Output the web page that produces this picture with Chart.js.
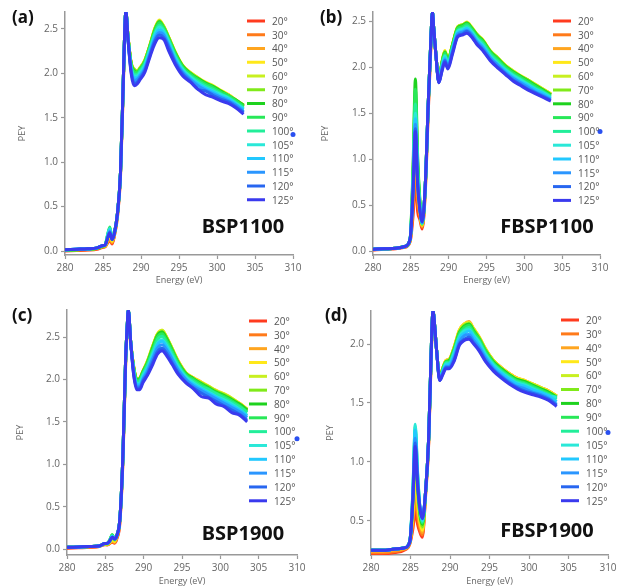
<!DOCTYPE html>
<html>
<head>
<meta charset="utf-8">
<script src="https://cdn.jsdelivr.net/npm/chart.js@4.4.1/dist/chart.umd.min.js"></script>
<style>
  html, body { margin: 0; padding: 0; background: #fff; }
  #wrap { position: relative; width: 626px; height: 588px; overflow: hidden; }
  #wrap canvas { position: absolute; }
</style>
</head>
<body>
<div id="wrap">
  <canvas id="chartA" width="313" height="290" style="left:0;top:0"></canvas>
  <canvas id="chartB" width="313" height="290" style="left:313px;top:0"></canvas>
  <canvas id="chartC" width="313" height="298" style="left:0;top:290px"></canvas>
  <canvas id="chartD" width="313" height="298" style="left:313px;top:290px"></canvas>
</div>
<script>
// photon energy (eV), shared by all four panels
const energy = [280, 281.5, 283, 284.2, 284.9, 285.3, 285.6, 285.9, 286.2, 286.5,
  286.9, 287.3, 287.65, 287.85, 288.0, 288.3, 288.7, 289.1, 289.5, 289.9, 290.5,
  291.2, 291.8, 292.4, 293.0, 293.7, 294.5, 295.5, 296.5, 297.5, 298.5,
  299.5, 300.5, 301.5, 302.5, 303.5];

const angles = ['20°', '30°', '40°', '50°', '60°', '70°', '80°', '90°', '100°', '105°', '110°', '115°', '120°', '125°'];
const colors = ['#ff3b1f', '#ff7a1a', '#ffa51f', '#ffe81a', '#c8f020', '#80ea1a', '#1ed21e',
  '#28e858', '#22ee9a', '#2ae8d8', '#22c8ff', '#2a96ff', '#2866f0', '#3a3aee'];

// PEY, one row per angle (20° ... 125°)
const bsp1100 = [
  [0.00, 0.005, 0.01, 0.02, 0.04, 0.05, 0.09, 0.12, 0.08, 0.17, 0.38, 0.83, 1.78, 2.40, 2.68, 2.41, 2.11, 2.03, 2.01, 2.06, 2.14, 2.32, 2.48, 2.58, 2.51, 2.39, 2.23, 2.08, 2.00, 1.94, 1.89, 1.85, 1.80, 1.75, 1.69, 1.63],
  [0.005, 0.01, 0.015, 0.025, 0.045, 0.05, 0.10, 0.14, 0.09, 0.18, 0.40, 0.86, 1.82, 2.43, 2.69, 2.40, 2.11, 2.03, 2.02, 2.06, 2.14, 2.32, 2.49, 2.58, 2.52, 2.39, 2.23, 2.08, 2.00, 1.94, 1.89, 1.85, 1.80, 1.75, 1.69, 1.63],
  [0.01, 0.015, 0.02, 0.03, 0.05, 0.06, 0.11, 0.16, 0.10, 0.20, 0.42, 0.88, 1.85, 2.45, 2.70, 2.40, 2.12, 2.04, 2.02, 2.06, 2.14, 2.32, 2.49, 2.59, 2.52, 2.39, 2.23, 2.08, 2.00, 1.94, 1.89, 1.85, 1.80, 1.76, 1.70, 1.64],
  [0.01, 0.015, 0.02, 0.03, 0.05, 0.06, 0.13, 0.18, 0.11, 0.20, 0.42, 0.88, 1.85, 2.45, 2.70, 2.40, 2.12, 2.05, 2.03, 2.07, 2.15, 2.33, 2.50, 2.60, 2.53, 2.40, 2.24, 2.09, 2.01, 1.95, 1.90, 1.86, 1.81, 1.76, 1.70, 1.64],
  [0.01, 0.015, 0.02, 0.03, 0.05, 0.06, 0.14, 0.20, 0.12, 0.20, 0.42, 0.88, 1.85, 2.45, 2.70, 2.40, 2.11, 2.05, 2.03, 2.06, 2.15, 2.32, 2.50, 2.59, 2.53, 2.39, 2.24, 2.08, 2.01, 1.95, 1.89, 1.86, 1.80, 1.75, 1.70, 1.64],
  [0.01, 0.015, 0.02, 0.03, 0.05, 0.07, 0.16, 0.23, 0.13, 0.20, 0.42, 0.88, 1.85, 2.45, 2.70, 2.40, 2.11, 2.04, 2.02, 2.06, 2.14, 2.32, 2.49, 2.59, 2.52, 2.39, 2.23, 2.08, 2.00, 1.94, 1.89, 1.85, 1.80, 1.75, 1.69, 1.63],
  [0.01, 0.015, 0.02, 0.03, 0.055, 0.07, 0.17, 0.25, 0.14, 0.20, 0.42, 0.88, 1.85, 2.45, 2.70, 2.40, 2.11, 2.03, 2.01, 2.05, 2.13, 2.31, 2.48, 2.58, 2.51, 2.38, 2.23, 2.08, 2.00, 1.94, 1.89, 1.85, 1.80, 1.75, 1.70, 1.64],
  [0.01, 0.015, 0.02, 0.03, 0.055, 0.07, 0.18, 0.27, 0.14, 0.20, 0.42, 0.88, 1.85, 2.45, 2.70, 2.40, 2.10, 2.02, 2.01, 2.05, 2.13, 2.31, 2.47, 2.57, 2.51, 2.38, 2.22, 2.07, 1.99, 1.93, 1.88, 1.84, 1.79, 1.75, 1.69, 1.63],
  [0.015, 0.02, 0.025, 0.035, 0.06, 0.07, 0.18, 0.26, 0.14, 0.20, 0.42, 0.88, 1.85, 2.45, 2.70, 2.39, 2.08, 1.99, 1.99, 2.03, 2.11, 2.29, 2.45, 2.54, 2.49, 2.36, 2.20, 2.05, 1.97, 1.91, 1.86, 1.82, 1.77, 1.73, 1.67, 1.61],
  [0.015, 0.02, 0.025, 0.035, 0.06, 0.07, 0.17, 0.25, 0.14, 0.20, 0.42, 0.88, 1.85, 2.45, 2.70, 2.39, 2.07, 1.97, 1.97, 2.01, 2.09, 2.27, 2.43, 2.52, 2.47, 2.34, 2.18, 2.04, 1.96, 1.89, 1.84, 1.80, 1.76, 1.72, 1.66, 1.60],
  [0.015, 0.02, 0.025, 0.035, 0.06, 0.07, 0.16, 0.24, 0.13, 0.20, 0.42, 0.88, 1.85, 2.45, 2.70, 2.38, 2.05, 1.95, 1.95, 1.99, 2.07, 2.25, 2.41, 2.49, 2.45, 2.32, 2.16, 2.02, 1.94, 1.88, 1.83, 1.79, 1.74, 1.71, 1.65, 1.59],
  [0.015, 0.02, 0.025, 0.035, 0.06, 0.07, 0.15, 0.22, 0.13, 0.20, 0.42, 0.88, 1.85, 2.45, 2.70, 2.38, 2.04, 1.92, 1.93, 1.97, 2.05, 2.23, 2.38, 2.46, 2.43, 2.30, 2.14, 2.01, 1.93, 1.86, 1.81, 1.77, 1.73, 1.69, 1.64, 1.57],
  [0.015, 0.02, 0.025, 0.035, 0.06, 0.07, 0.15, 0.21, 0.13, 0.20, 0.42, 0.88, 1.85, 2.45, 2.70, 2.37, 2.02, 1.89, 1.90, 1.95, 2.03, 2.21, 2.36, 2.43, 2.40, 2.28, 2.12, 1.99, 1.91, 1.82, 1.80, 1.75, 1.71, 1.68, 1.62, 1.56],
  [0.015, 0.02, 0.025, 0.035, 0.06, 0.07, 0.14, 0.20, 0.13, 0.20, 0.42, 0.88, 1.85, 2.45, 2.70, 2.37, 2.00, 1.86, 1.88, 1.93, 2.01, 2.19, 2.33, 2.40, 2.38, 2.24, 2.10, 1.97, 1.90, 1.82, 1.76, 1.73, 1.69, 1.66, 1.61, 1.54]
];

const fbsp1100 = [
  [0.01, 0.02, 0.025, 0.04, 0.10, 0.39, 0.78, 0.43, 0.34, 0.24, 0.62, 1.50, 2.22, 2.56, 2.45, 2.15, 1.85, 2.03, 2.16, 2.06, 2.23, 2.42, 2.44, 2.40, 2.42, 2.34, 2.28, 2.16, 2.08, 2.00, 1.94, 1.89, 1.84, 1.79, 1.74, 1.70],
  [0.02, 0.025, 0.03, 0.05, 0.11, 0.49, 0.98, 0.54, 0.38, 0.26, 0.66, 1.55, 2.26, 2.58, 2.45, 2.15, 1.86, 2.04, 2.17, 2.07, 2.24, 2.43, 2.45, 2.48, 2.43, 2.35, 2.29, 2.17, 2.09, 2.01, 1.95, 1.90, 1.85, 1.80, 1.75, 1.70],
  [0.02, 0.025, 0.03, 0.05, 0.12, 0.58, 1.15, 0.63, 0.41, 0.27, 0.68, 1.58, 2.28, 2.59, 2.45, 2.15, 1.86, 2.04, 2.17, 2.07, 2.24, 2.43, 2.45, 2.48, 2.43, 2.35, 2.29, 2.17, 2.09, 2.02, 1.95, 1.90, 1.85, 1.80, 1.76, 1.71],
  [0.02, 0.025, 0.03, 0.05, 0.12, 0.65, 1.30, 0.72, 0.44, 0.28, 0.70, 1.60, 2.30, 2.60, 2.45, 2.15, 1.86, 2.05, 2.18, 2.08, 2.25, 2.44, 2.46, 2.49, 2.44, 2.36, 2.30, 2.18, 2.10, 2.02, 1.96, 1.91, 1.86, 1.81, 1.76, 1.71],
  [0.02, 0.025, 0.03, 0.05, 0.12, 0.75, 1.50, 0.83, 0.48, 0.29, 0.70, 1.60, 2.30, 2.60, 2.45, 2.15, 1.86, 2.04, 2.17, 2.08, 2.24, 2.44, 2.46, 2.48, 2.44, 2.36, 2.29, 2.18, 2.10, 2.02, 1.96, 1.90, 1.86, 1.81, 1.76, 1.71],
  [0.02, 0.025, 0.03, 0.05, 0.12, 0.84, 1.68, 0.92, 0.52, 0.29, 0.70, 1.60, 2.30, 2.60, 2.45, 2.15, 1.86, 2.05, 2.17, 2.08, 2.24, 2.43, 2.46, 2.48, 2.43, 2.36, 2.29, 2.17, 2.10, 2.01, 1.95, 1.90, 1.86, 1.80, 1.75, 1.70],
  [0.02, 0.025, 0.03, 0.05, 0.13, 0.94, 1.87, 1.03, 0.55, 0.30, 0.70, 1.60, 2.30, 2.60, 2.45, 2.15, 1.85, 2.04, 2.16, 2.07, 2.24, 2.43, 2.45, 2.48, 2.43, 2.35, 2.29, 2.17, 2.09, 2.01, 1.95, 1.90, 1.85, 1.80, 1.75, 1.70],
  [0.02, 0.025, 0.03, 0.05, 0.13, 0.88, 1.76, 0.97, 0.53, 0.30, 0.70, 1.60, 2.30, 2.60, 2.45, 2.15, 1.85, 2.03, 2.15, 2.06, 2.23, 2.42, 2.44, 2.47, 2.42, 2.34, 2.28, 2.16, 2.08, 2.00, 1.94, 1.89, 1.84, 1.79, 1.74, 1.69],
  [0.02, 0.025, 0.03, 0.05, 0.13, 0.80, 1.60, 0.88, 0.50, 0.30, 0.70, 1.60, 2.30, 2.60, 2.45, 2.15, 1.85, 2.02, 2.13, 2.05, 2.21, 2.40, 2.42, 2.45, 2.40, 2.32, 2.26, 2.14, 2.06, 1.98, 1.92, 1.87, 1.82, 1.77, 1.73, 1.68],
  [0.02, 0.025, 0.03, 0.05, 0.13, 0.75, 1.50, 0.83, 0.48, 0.30, 0.70, 1.60, 2.30, 2.60, 2.45, 2.15, 1.84, 2.00, 2.12, 2.03, 2.20, 2.39, 2.41, 2.43, 2.39, 2.31, 2.24, 2.12, 2.04, 1.97, 1.91, 1.86, 1.81, 1.76, 1.72, 1.67],
  [0.02, 0.025, 0.03, 0.05, 0.13, 0.72, 1.44, 0.79, 0.47, 0.31, 0.70, 1.60, 2.30, 2.60, 2.45, 2.15, 1.84, 1.99, 2.10, 2.02, 2.19, 2.37, 2.39, 2.42, 2.37, 2.29, 2.23, 2.11, 2.03, 1.96, 1.89, 1.84, 1.80, 1.75, 1.71, 1.66],
  [0.02, 0.025, 0.03, 0.05, 0.13, 0.69, 1.38, 0.76, 0.46, 0.31, 0.70, 1.60, 2.30, 2.60, 2.45, 2.15, 1.84, 1.98, 2.08, 2.01, 2.17, 2.36, 2.38, 2.40, 2.36, 2.28, 2.21, 2.10, 2.02, 1.94, 1.88, 1.83, 1.78, 1.73, 1.69, 1.65],
  [0.02, 0.025, 0.03, 0.05, 0.13, 0.67, 1.33, 0.73, 0.45, 0.32, 0.70, 1.60, 2.30, 2.60, 2.45, 2.15, 1.83, 1.96, 2.07, 1.99, 2.16, 2.34, 2.36, 2.39, 2.34, 2.26, 2.19, 2.08, 2.00, 1.93, 1.86, 1.81, 1.76, 1.72, 1.68, 1.64],
  [0.02, 0.025, 0.03, 0.05, 0.13, 0.65, 1.30, 0.72, 0.44, 0.32, 0.70, 1.60, 2.30, 2.60, 2.45, 2.15, 1.83, 1.95, 2.05, 1.98, 2.14, 2.33, 2.35, 2.37, 2.33, 2.25, 2.18, 2.07, 1.99, 1.92, 1.85, 1.80, 1.75, 1.71, 1.67, 1.63]
];

const bsp1900 = [
  [0.01, 0.015, 0.02, 0.03, 0.05, 0.05, 0.07, 0.08, 0.07, 0.12, 0.31, 1.05, 2.18, 2.58, 2.80, 2.45, 2.14, 2.00, 2.01, 2.09, 2.21, 2.38, 2.52, 2.56, 2.48, 2.35, 2.21, 2.07, 2.01, 1.96, 1.91, 1.86, 1.82, 1.77, 1.71, 1.64],
  [0.015, 0.02, 0.025, 0.03, 0.055, 0.05, 0.07, 0.09, 0.08, 0.13, 0.33, 1.08, 2.21, 2.60, 2.81, 2.45, 2.15, 2.00, 2.01, 2.09, 2.21, 2.39, 2.53, 2.57, 2.49, 2.36, 2.21, 2.07, 2.01, 1.96, 1.91, 1.86, 1.82, 1.77, 1.71, 1.64],
  [0.02, 0.025, 0.03, 0.035, 0.06, 0.05, 0.08, 0.10, 0.08, 0.15, 0.35, 1.10, 2.23, 2.61, 2.82, 2.45, 2.15, 2.01, 2.02, 2.10, 2.21, 2.39, 2.53, 2.57, 2.49, 2.36, 2.22, 2.08, 2.02, 1.97, 1.91, 1.87, 1.82, 1.77, 1.72, 1.65],
  [0.02, 0.025, 0.03, 0.035, 0.06, 0.06, 0.08, 0.11, 0.09, 0.16, 0.36, 1.12, 2.25, 2.62, 2.82, 2.45, 2.15, 2.01, 2.02, 2.10, 2.22, 2.40, 2.54, 2.58, 2.50, 2.37, 2.22, 2.08, 2.02, 1.97, 1.92, 1.87, 1.83, 1.78, 1.72, 1.65],
  [0.02, 0.025, 0.03, 0.035, 0.06, 0.06, 0.09, 0.13, 0.10, 0.16, 0.36, 1.12, 2.25, 2.62, 2.82, 2.45, 2.14, 2.01, 2.01, 2.09, 2.22, 2.40, 2.53, 2.58, 2.50, 2.37, 2.21, 2.08, 2.01, 1.96, 1.92, 1.86, 1.83, 1.78, 1.71, 1.65],
  [0.02, 0.025, 0.03, 0.035, 0.06, 0.06, 0.10, 0.15, 0.11, 0.16, 0.36, 1.12, 2.25, 2.62, 2.82, 2.45, 2.14, 2.00, 2.01, 2.09, 2.21, 2.39, 2.53, 2.56, 2.49, 2.36, 2.21, 2.07, 2.01, 1.96, 1.91, 1.86, 1.82, 1.77, 1.71, 1.64],
  [0.02, 0.025, 0.03, 0.035, 0.065, 0.07, 0.11, 0.17, 0.12, 0.16, 0.36, 1.12, 2.25, 2.62, 2.82, 2.45, 2.14, 2.00, 2.01, 2.09, 2.20, 2.38, 2.52, 2.56, 2.48, 2.35, 2.20, 2.07, 2.01, 1.95, 1.90, 1.85, 1.81, 1.76, 1.71, 1.64],
  [0.02, 0.025, 0.03, 0.035, 0.065, 0.07, 0.11, 0.17, 0.12, 0.16, 0.36, 1.12, 2.25, 2.62, 2.82, 2.45, 2.13, 1.99, 2.00, 2.08, 2.19, 2.36, 2.50, 2.54, 2.46, 2.34, 2.19, 2.06, 2.00, 1.94, 1.89, 1.84, 1.80, 1.75, 1.69, 1.62],
  [0.02, 0.025, 0.03, 0.035, 0.065, 0.07, 0.11, 0.16, 0.12, 0.16, 0.36, 1.12, 2.25, 2.62, 2.82, 2.45, 2.12, 1.97, 1.98, 2.06, 2.17, 2.33, 2.47, 2.51, 2.43, 2.31, 2.17, 2.04, 1.98, 1.92, 1.88, 1.83, 1.78, 1.73, 1.68, 1.61],
  [0.02, 0.025, 0.03, 0.035, 0.065, 0.07, 0.10, 0.15, 0.12, 0.16, 0.36, 1.12, 2.25, 2.62, 2.82, 2.45, 2.11, 1.95, 1.96, 2.04, 2.14, 2.30, 2.43, 2.47, 2.40, 2.28, 2.15, 2.03, 1.96, 1.90, 1.85, 1.80, 1.76, 1.71, 1.65, 1.58],
  [0.02, 0.025, 0.03, 0.035, 0.065, 0.07, 0.10, 0.15, 0.12, 0.16, 0.36, 1.12, 2.25, 2.62, 2.82, 2.45, 2.10, 1.94, 1.94, 2.02, 2.13, 2.28, 2.41, 2.45, 2.38, 2.26, 2.13, 2.01, 1.94, 1.89, 1.84, 1.79, 1.74, 1.69, 1.64, 1.57],
  [0.02, 0.025, 0.03, 0.035, 0.065, 0.07, 0.10, 0.14, 0.12, 0.16, 0.36, 1.12, 2.25, 2.62, 2.82, 2.45, 2.08, 1.92, 1.92, 2.00, 2.10, 2.25, 2.37, 2.41, 2.35, 2.24, 2.11, 2.00, 1.92, 1.87, 1.82, 1.77, 1.72, 1.67, 1.62, 1.55],
  [0.02, 0.025, 0.03, 0.035, 0.065, 0.07, 0.10, 0.14, 0.12, 0.16, 0.36, 1.12, 2.25, 2.62, 2.82, 2.45, 2.06, 1.90, 1.90, 1.98, 2.07, 2.21, 2.33, 2.37, 2.31, 2.20, 2.08, 1.97, 1.90, 1.84, 1.79, 1.74, 1.69, 1.64, 1.59, 1.52],
  [0.02, 0.025, 0.03, 0.035, 0.065, 0.07, 0.10, 0.14, 0.12, 0.16, 0.36, 1.12, 2.25, 2.62, 2.82, 2.45, 2.05, 1.88, 1.88, 1.96, 2.05, 2.18, 2.30, 2.34, 2.28, 2.18, 2.06, 1.96, 1.89, 1.80, 1.78, 1.71, 1.68, 1.61, 1.58, 1.50]
];

const fbsp1900 = [
  [0.22, 0.22, 0.23, 0.25, 0.30, 0.43, 0.58, 0.47, 0.40, 0.36, 0.70, 1.15, 1.95, 2.27, 2.20, 1.95, 1.72, 1.79, 1.85, 1.86, 1.96, 2.11, 2.16, 2.17, 2.12, 2.05, 1.95, 1.85, 1.79, 1.74, 1.70, 1.68, 1.65, 1.62, 1.59, 1.55],
  [0.23, 0.23, 0.24, 0.26, 0.31, 0.48, 0.70, 0.54, 0.43, 0.38, 0.72, 1.17, 1.97, 2.28, 2.20, 1.95, 1.72, 1.80, 1.86, 1.87, 1.96, 2.11, 2.16, 2.18, 2.12, 2.05, 1.95, 1.86, 1.80, 1.75, 1.71, 1.68, 1.66, 1.63, 1.60, 1.56],
  [0.24, 0.24, 0.25, 0.26, 0.31, 0.53, 0.80, 0.60, 0.46, 0.40, 0.73, 1.18, 1.98, 2.29, 2.20, 1.95, 1.72, 1.80, 1.86, 1.87, 1.97, 2.12, 2.17, 2.19, 2.13, 2.06, 1.96, 1.86, 1.80, 1.75, 1.71, 1.69, 1.66, 1.63, 1.60, 1.56],
  [0.25, 0.25, 0.26, 0.27, 0.32, 0.57, 0.90, 0.66, 0.49, 0.42, 0.74, 1.19, 1.99, 2.29, 2.20, 1.95, 1.72, 1.80, 1.86, 1.87, 1.97, 2.12, 2.17, 2.18, 2.13, 2.06, 1.96, 1.86, 1.80, 1.75, 1.71, 1.69, 1.66, 1.63, 1.60, 1.56],
  [0.25, 0.25, 0.26, 0.27, 0.32, 0.62, 1.00, 0.72, 0.52, 0.44, 0.74, 1.20, 2.00, 2.29, 2.20, 1.95, 1.72, 1.80, 1.85, 1.86, 1.96, 2.11, 2.16, 2.18, 2.12, 2.05, 1.95, 1.86, 1.79, 1.74, 1.70, 1.68, 1.66, 1.63, 1.59, 1.56],
  [0.25, 0.25, 0.26, 0.27, 0.32, 0.65, 1.08, 0.77, 0.54, 0.45, 0.74, 1.20, 2.00, 2.29, 2.20, 1.95, 1.71, 1.79, 1.85, 1.86, 1.96, 2.10, 2.16, 2.17, 2.12, 2.05, 1.95, 1.85, 1.79, 1.74, 1.70, 1.68, 1.65, 1.62, 1.59, 1.55],
  [0.25, 0.25, 0.26, 0.27, 0.32, 0.69, 1.17, 0.82, 0.56, 0.47, 0.74, 1.20, 2.00, 2.29, 2.20, 1.95, 1.72, 1.79, 1.85, 1.86, 1.95, 2.10, 2.15, 2.17, 2.11, 2.04, 1.94, 1.85, 1.79, 1.74, 1.70, 1.68, 1.65, 1.62, 1.59, 1.55],
  [0.25, 0.25, 0.26, 0.27, 0.32, 0.72, 1.24, 0.86, 0.58, 0.48, 0.74, 1.20, 2.00, 2.29, 2.20, 1.95, 1.71, 1.79, 1.85, 1.85, 1.95, 2.09, 2.14, 2.16, 2.10, 2.04, 1.94, 1.84, 1.78, 1.73, 1.69, 1.67, 1.64, 1.61, 1.58, 1.54],
  [0.25, 0.25, 0.26, 0.27, 0.32, 0.75, 1.30, 0.90, 0.60, 0.49, 0.74, 1.20, 2.00, 2.29, 2.20, 1.95, 1.71, 1.78, 1.84, 1.84, 1.93, 2.07, 2.12, 2.14, 2.08, 2.02, 1.92, 1.83, 1.77, 1.72, 1.68, 1.66, 1.63, 1.60, 1.57, 1.53],
  [0.25, 0.25, 0.26, 0.27, 0.32, 0.76, 1.32, 0.91, 0.61, 0.50, 0.74, 1.20, 2.00, 2.29, 2.20, 1.95, 1.71, 1.77, 1.83, 1.83, 1.92, 2.06, 2.11, 2.12, 2.07, 2.01, 1.91, 1.82, 1.76, 1.71, 1.67, 1.65, 1.62, 1.59, 1.56, 1.55],
  [0.25, 0.25, 0.26, 0.27, 0.32, 0.74, 1.27, 0.88, 0.61, 0.51, 0.74, 1.20, 2.00, 2.29, 2.20, 1.95, 1.70, 1.77, 1.82, 1.83, 1.90, 2.05, 2.09, 2.11, 2.06, 1.99, 1.90, 1.81, 1.75, 1.70, 1.66, 1.64, 1.61, 1.59, 1.56, 1.51],
  [0.25, 0.25, 0.26, 0.27, 0.32, 0.71, 1.20, 0.84, 0.61, 0.52, 0.74, 1.20, 2.00, 2.29, 2.20, 1.95, 1.70, 1.76, 1.81, 1.81, 1.88, 2.02, 2.07, 2.08, 2.03, 1.97, 1.88, 1.79, 1.73, 1.68, 1.64, 1.62, 1.59, 1.57, 1.54, 1.49],
  [0.25, 0.25, 0.26, 0.27, 0.32, 0.69, 1.16, 0.82, 0.61, 0.52, 0.74, 1.20, 2.00, 2.29, 2.20, 1.95, 1.69, 1.75, 1.80, 1.80, 1.86, 2.00, 2.04, 2.06, 2.01, 1.95, 1.86, 1.78, 1.72, 1.67, 1.63, 1.60, 1.58, 1.56, 1.53, 1.48],
  [0.25, 0.25, 0.26, 0.27, 0.32, 0.67, 1.13, 0.80, 0.60, 0.52, 0.74, 1.20, 2.00, 2.29, 2.20, 1.95, 1.69, 1.74, 1.79, 1.79, 1.85, 1.99, 2.03, 2.04, 2.00, 1.94, 1.85, 1.77, 1.71, 1.66, 1.62, 1.59, 1.57, 1.55, 1.52, 1.47]
];

// the single stray point sitting on the right axis of each panel
const strayY = [1.31, 1.30, 1.30, 1.25];

// draws the in-plot legend, the panel letter and the sample name
const panelText = {
  id: 'panelText',
  afterDraw(chart, args, opts) {
    const ctx = chart.ctx;
    ctx.save();
    ctx.textBaseline = 'middle';
    chart.data.datasets.forEach((ds, i) => {
      if (ds.skipLegend) return;
      const y = opts.legendY + i * opts.legendStep;
      ctx.strokeStyle = ds.borderColor;
      ctx.lineWidth = 3;
      ctx.beginPath();
      ctx.moveTo(opts.legendX, y);
      ctx.lineTo(opts.legendX + 18, y);
      ctx.stroke();
      ctx.fillStyle = '#555';
      ctx.font = '10px "Open Sans"';
      ctx.fillText(ds.label, opts.legendX + 25, y + 1);
    });
    ctx.textBaseline = 'alphabetic';
    ctx.fillStyle = '#111';
    ctx.font = 'bold 17px "Noto Sans"';
    ctx.textAlign = 'left';
    ctx.fillText(opts.tag, opts.tagX, opts.tagY);
    ctx.font = 'bold 20px "Noto Sans"';
    ctx.textAlign = 'center';
    ctx.fillText(opts.name, opts.nameX, opts.nameY);
    ctx.restore();
  }
};

function makeChart(id, rows, stray, g) {
  const datasets = rows.map((row, i) => ({
    label: angles[i],
    data: energy.map((e, k) => ({ x: e, y: row[k] })),
    borderColor: colors[i],
    backgroundColor: colors[i],
    borderWidth: 3,
    pointRadius: 0,
    cubicInterpolationMode: 'monotone',
    order: rows.length - i
  }));
  datasets.push({
    label: '',
    data: [{ x: 310, y: stray }],
    showLine: false,
    pointRadius: 2.5,
    pointBorderWidth: 0,
    pointBackgroundColor: '#2a50f0',
    clip: false,
    order: 0,
    skipLegend: true
  });

  return new Chart(document.getElementById(id), {
    type: 'line',
    data: { datasets: datasets },
    plugins: [panelText],
    options: {
      responsive: false,
      animation: false,
      layout: { padding: { top: g.padTop, right: g.padRight, left: 0, bottom: 0 } },
      plugins: {
        legend: { display: false },
        tooltip: { enabled: false },
        panelText: g.text
      },
      scales: {
        x: {
          type: 'linear',
          min: 280,
          max: 310,
          afterFit: s => { s.height = g.xH; },
          ticks: { stepSize: 5, color: '#666', font: { family: 'Open Sans', size: 10 }, maxRotation: 0, padding: 3 },
          grid: { display: true, drawOnChartArea: false, tickLength: 4, color: '#999', tickWidth: 1.2 },
          border: { display: true, color: '#999', width: 1.5 },
          title: { display: true, text: 'Energy (eV)', color: '#666', font: { family: 'Open Sans', size: 9 }, padding: { top: 0, bottom: g.xTitlePad } }
        },
        y: {
          type: 'linear',
          min: g.yMin,
          max: g.yMax,
          afterFit: s => { s.width = g.yW; },
          ticks: { stepSize: 0.5, includeBounds: false, color: '#666', font: { family: 'Open Sans', size: 10 }, padding: 3,
            callback: v => v.toFixed(1) },
          grid: { display: true, drawOnChartArea: false, tickLength: 4, color: '#999', tickWidth: 1.2 },
          border: { display: true, color: '#999', width: 1.5 },
          title: { display: true, text: 'PEY', color: '#666', font: { family: 'Open Sans', size: 9 }, padding: { top: g.yTitlePad, bottom: 0 } }
        }
      }
    }
  });
}

makeChart('chartA', bsp1100, strayY[0], {
  padTop: 12, padRight: 20, xH: 35, yW: 65, yMin: -0.045, yMax: 2.69, xTitlePad: 4, yTitlePad: 17,
  text: { legendX: 247, legendY: 21, legendStep: 13.75, tag: '(a)', tagX: 12, tagY: 23, name: 'BSP1100', nameX: 243, nameY: 233 }
});
makeChart('chartB', fbsp1100, strayY[1], {
  padTop: 12, padRight: 26, xH: 35, yW: 60, yMin: -0.043, yMax: 2.6, xTitlePad: 4, yTitlePad: 7,
  text: { legendX: 240, legendY: 21, legendStep: 13.8, tag: '(b)', tagX: 7, tagY: 23, name: 'FBSP1100', nameX: 234, nameY: 233 }
});
makeChart('chartC', bsp1900, strayY[2], {
  padTop: 20, padRight: 16, xH: 33, yW: 67, yMin: -0.07, yMax: 2.82, xTitlePad: 1, yTitlePad: 15,
  text: { legendX: 249, legendY: 31, legendStep: 13.83, tag: '(c)', tagX: 12, tagY: 31, name: 'BSP1900', nameX: 243, nameY: 250 }
});
makeChart('chartD', fbsp1900, strayY[3], {
  padTop: 21, padRight: 18, xH: 33, yW: 58, yMin: 0.21, yMax: 2.28, xTitlePad: 1, yTitlePad: 12,
  text: { legendX: 248, legendY: 30, legendStep: 13.9, tag: '(d)', tagX: 12, tagY: 31, name: 'FBSP1900', nameX: 234, nameY: 247 }
});
</script>
</body>
</html>
